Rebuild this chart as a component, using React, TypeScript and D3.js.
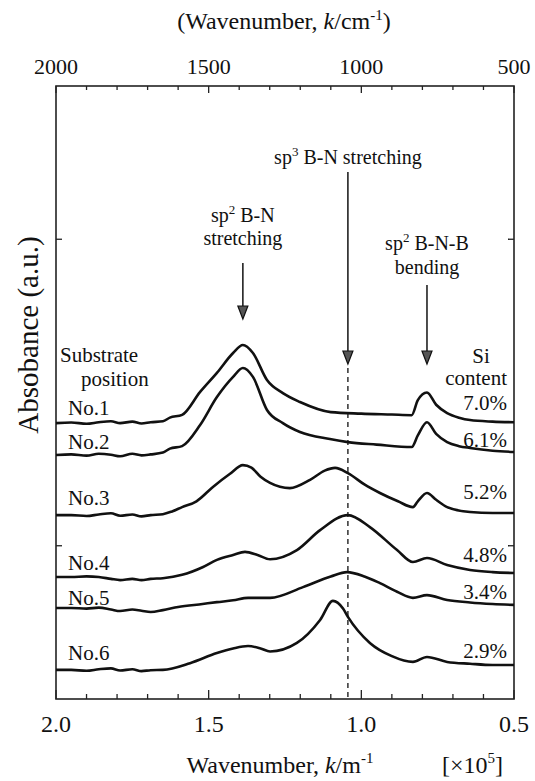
import * as d3 from "d3";

// wavenumber k (x10^5 m^-1) and absorbance (a.u., stacked offsets included)
const no1: [number, number][] = [
  [2.0, 0.9], [1.95, 0.902], [1.9, 0.898], [1.86, 0.903], [1.82, 0.906], [1.79, 0.9],
  [1.75, 0.905], [1.72, 0.899], [1.69, 0.903], [1.65, 0.906], [1.627, 0.918], [1.587, 0.927],
  [1.528, 1.002], [1.473, 1.064], [1.42, 1.129], [1.388, 1.155], [1.355, 1.129], [1.309, 1.041],
  [1.257, 0.998], [1.201, 0.969], [1.1, 0.936], [1.0, 0.931], [0.9, 0.928], [0.835, 0.926],
  [0.815, 0.975], [0.785, 1.0], [0.755, 0.96], [0.719, 0.933], [0.68, 0.918], [0.644, 0.91],
  [0.57, 0.905], [0.5, 0.903],
];
const no2: [number, number][] = [
  [2.0, 0.796], [1.95, 0.798], [1.9, 0.794], [1.86, 0.8], [1.82, 0.797], [1.79, 0.792],
  [1.75, 0.8], [1.72, 0.795], [1.69, 0.798], [1.65, 0.804], [1.627, 0.817], [1.587, 0.825],
  [1.528, 0.894], [1.473, 0.985], [1.42, 1.051], [1.388, 1.08], [1.355, 1.051], [1.309, 0.943],
  [1.257, 0.9], [1.201, 0.871], [1.103, 0.848], [1.044, 0.838], [0.95, 0.83], [0.835, 0.822],
  [0.815, 0.86], [0.785, 0.903], [0.755, 0.865], [0.719, 0.838], [0.68, 0.825], [0.644, 0.819],
  [0.57, 0.81], [0.5, 0.806],
];
const no3: [number, number][] = [
  [2.0, 0.6], [1.95, 0.6], [1.9, 0.597], [1.86, 0.602], [1.82, 0.606], [1.79, 0.598],
  [1.75, 0.602], [1.72, 0.596], [1.69, 0.6], [1.65, 0.603], [1.62, 0.612], [1.587, 0.626],
  [1.54, 0.645], [1.486, 0.692], [1.43, 0.735], [1.388, 0.763], [1.36, 0.755], [1.33, 0.725],
  [1.299, 0.705], [1.234, 0.688], [1.168, 0.715], [1.12, 0.745], [1.086, 0.754], [1.044, 0.737],
  [0.99, 0.7], [0.939, 0.672], [0.88, 0.645], [0.831, 0.626], [0.815, 0.645], [0.785, 0.672],
  [0.755, 0.65], [0.719, 0.626], [0.644, 0.61], [0.57, 0.607], [0.5, 0.607],
];
const no4: [number, number][] = [
  [2.0, 0.398], [1.95, 0.398], [1.9, 0.4], [1.86, 0.398], [1.82, 0.392], [1.79, 0.388],
  [1.75, 0.392], [1.72, 0.388], [1.69, 0.392], [1.65, 0.394], [1.587, 0.405], [1.52, 0.43],
  [1.473, 0.454], [1.42, 0.47], [1.381, 0.48], [1.34, 0.47], [1.299, 0.456], [1.211, 0.486],
  [1.135, 0.551], [1.044, 0.6], [0.972, 0.561], [0.883, 0.486], [0.831, 0.447], [0.785, 0.46],
  [0.719, 0.437], [0.644, 0.421], [0.57, 0.414], [0.5, 0.411],
];
const no5: [number, number][] = [
  [2.0, 0.297], [1.95, 0.297], [1.9, 0.295], [1.86, 0.298], [1.82, 0.292], [1.79, 0.287],
  [1.75, 0.292], [1.72, 0.288], [1.69, 0.284], [1.65, 0.29], [1.6, 0.3], [1.52, 0.31],
  [1.473, 0.316], [1.42, 0.322], [1.371, 0.33], [1.299, 0.33], [1.191, 0.365], [1.1, 0.4],
  [1.047, 0.414], [0.99, 0.4], [0.939, 0.378], [0.883, 0.35], [0.831, 0.33], [0.785, 0.339],
  [0.719, 0.323], [0.644, 0.315], [0.57, 0.31], [0.5, 0.307],
];
const no6: [number, number][] = [
  [2.0, 0.095], [1.95, 0.095], [1.9, 0.092], [1.86, 0.097], [1.82, 0.1], [1.79, 0.093],
  [1.75, 0.097], [1.72, 0.091], [1.69, 0.094], [1.65, 0.095], [1.561, 0.117], [1.473, 0.15],
  [1.42, 0.165], [1.371, 0.173], [1.33, 0.165], [1.299, 0.155], [1.211, 0.183], [1.135, 0.258],
  [1.093, 0.32], [1.06, 0.295], [1.044, 0.268], [0.972, 0.183], [0.9, 0.14], [0.831, 0.121],
  [0.785, 0.137], [0.719, 0.121], [0.644, 0.115], [0.57, 0.111], [0.5, 0.111],
];

const spectra = [no1, no2, no3, no4, no5, no6];
const positions = ["No.1", "No.2", "No.3", "No.4", "No.5", "No.6"];
const siContent = ["7.0%", "6.1%", "5.2%", "4.8%", "3.4%", "2.9%"];
// label heights in absorbance units
const positionLabelY = [0.95, 0.84, 0.655, 0.445, 0.33, 0.15];
const siLabelY = [0.965, 0.845, 0.675, 0.47, 0.35, 0.158];

const bottomMajor = [2.0, 1.5, 1.0, 0.5];
const topMajor = [2000, 1500, 1000, 500];
const yTicks = [0.5, 1.5];

const sp2Stretch = 1.388;
const sp3Stretch = 1.044;
const sp2Bend = 0.785;

const W = 535;
const H = 781;
const m = { left: 56, right: 514, top: 86, bottom: 699 };
const font = "'Liberation Serif', 'Times New Roman', 'DejaVu Serif', serif";

export default function App() {
  const x = d3.scaleLinear().domain([2.0, 0.5]).range([m.left, m.right]);
  const xTop = d3.scaleLinear().domain([2000, 500]).range([m.left, m.right]);
  const y = d3.scaleLinear().domain([0, 2]).range([m.bottom, m.top]);

  const line = d3
    .line<[number, number]>()
    .x((d) => x(d[0]))
    .y((d) => y(d[1]))
    .curve(d3.curveMonotoneX);

  const minor = d3.range(20, 4, -1).map((v) => v / 10);

  const arrow = (k: number, y0: number, y1: number) => (
    <g>
      <line x1={x(k)} x2={x(k)} y1={y0} y2={y1 - 8} stroke="#222" strokeWidth={1.6} />
      <path
        d={`M${x(k) - 5},${y1 - 13} L${x(k) + 5},${y1 - 13} L${x(k)},${y1} Z`}
        fill="#555"
        stroke="#111"
        strokeWidth={1.2}
      />
    </g>
  );

  return (
    <svg
      width={W}
      height={H}
      style={{ position: "absolute", left: 0, top: 0, background: "#fff", fontFamily: font }}
      fill="#111"
    >
      {/* top title & ticks */}
      <text x={284} y={29} fontSize={24} textAnchor="middle">
        (Wavenumber, <tspan fontStyle="italic">k</tspan>/cm
        <tspan dy={-9} fontSize={15}>-1</tspan>
        <tspan dy={9}>)</tspan>
      </text>
      {topMajor.map((t) => (
        <text key={t} x={xTop(t)} y={74} fontSize={22} textAnchor="middle">
          {t}
        </text>
      ))}

      {/* frame */}
      <rect
        x={m.left}
        y={m.top}
        width={m.right - m.left}
        height={m.bottom - m.top}
        fill="none"
        stroke="#222"
        strokeWidth={1.6}
      />

      {/* ticks */}
      {minor.map((k) => {
        const major = bottomMajor.some((b) => Math.abs(b - k) < 1e-6);
        return (
          <g key={k} stroke="#222" strokeWidth={1.3}>
            <line x1={x(k)} x2={x(k)} y1={m.bottom} y2={m.bottom - (major ? 9 : 5)} />
            <line x1={x(k)} x2={x(k)} y1={m.top} y2={m.top + (major ? 7 : 4)} />
          </g>
        );
      })}
      {yTicks.map((t) => (
        <g key={t} stroke="#222" strokeWidth={1.3}>
          <line x1={m.left} x2={m.left + 6} y1={y(t)} y2={y(t)} />
          <line x1={m.right} x2={m.right - 6} y1={y(t)} y2={y(t)} />
        </g>
      ))}

      {/* bottom tick labels & title */}
      {bottomMajor.map((t) => (
        <text key={t} x={x(t)} y={732} fontSize={24} textAnchor="middle">
          {t.toFixed(1)}
        </text>
      ))}
      <text x={280} y={773} fontSize={24} textAnchor="middle">
        Wavenumber, <tspan fontStyle="italic">k</tspan>/m
        <tspan dy={-10} fontSize={15}>-1</tspan>
      </text>
      <text x={442} y={773} fontSize={24}>
        [×10<tspan dy={-10} fontSize={15}>5</tspan>
        <tspan dy={10}>]</tspan>
      </text>

      {/* y title */}
      <text transform={`translate(38,${335}) rotate(-90)`} fontSize={29} textAnchor="middle">
        Absobance (a.u.)
      </text>

      {/* dashed guide */}
      <line
        x1={x(sp3Stretch)}
        x2={x(sp3Stretch)}
        y1={368}
        y2={m.bottom}
        stroke="#222"
        strokeWidth={1.4}
        strokeDasharray="5,4"
      />

      {/* spectra */}
      {spectra.map((s, i) => (
        <path key={i} d={line(s) ?? ""} fill="none" stroke="#111" strokeWidth={2.6} />
      ))}

      {/* annotations */}
      <text x={x(sp3Stretch)} y={164} fontSize={20} textAnchor="middle">
        sp<tspan dy={-8} fontSize={13}>3</tspan>
        <tspan dy={8}> B-N stretching</tspan>
      </text>
      {arrow(sp3Stretch, 172, 364)}

      <text x={x(sp2Stretch)} y={222} fontSize={20} textAnchor="middle">
        sp<tspan dy={-8} fontSize={13}>2</tspan>
        <tspan dy={8}> B-N</tspan>
      </text>
      <text x={x(sp2Stretch)} y={245} fontSize={20} textAnchor="middle">
        stretching
      </text>
      {arrow(sp2Stretch, 263, 319)}

      <text x={x(sp2Bend)} y={250} fontSize={20} textAnchor="middle">
        sp<tspan dy={-8} fontSize={13}>2</tspan>
        <tspan dy={8}> B-N-B</tspan>
      </text>
      <text x={x(sp2Bend)} y={274} fontSize={20} textAnchor="middle">
        bending
      </text>
      {arrow(sp2Bend, 285, 364)}

      <text x={60} y={362} fontSize={21}>
        Substrate
      </text>
      <text x={81} y={386} fontSize={21}>
        position
      </text>
      {positions.map((p, i) => (
        <text key={p} x={68} y={y(positionLabelY[i]) + 7} fontSize={21}>
          {p}
        </text>
      ))}

      <text x={481} y={363} fontSize={21} textAnchor="middle">
        Si
      </text>
      <text x={507} y={385} fontSize={21} textAnchor="end">
        content
      </text>
      {siContent.map((c, i) => (
        <text key={c} x={507} y={y(siLabelY[i]) + 7} fontSize={21} textAnchor="end">
          {c}
        </text>
      ))}
    </svg>
  );
}
